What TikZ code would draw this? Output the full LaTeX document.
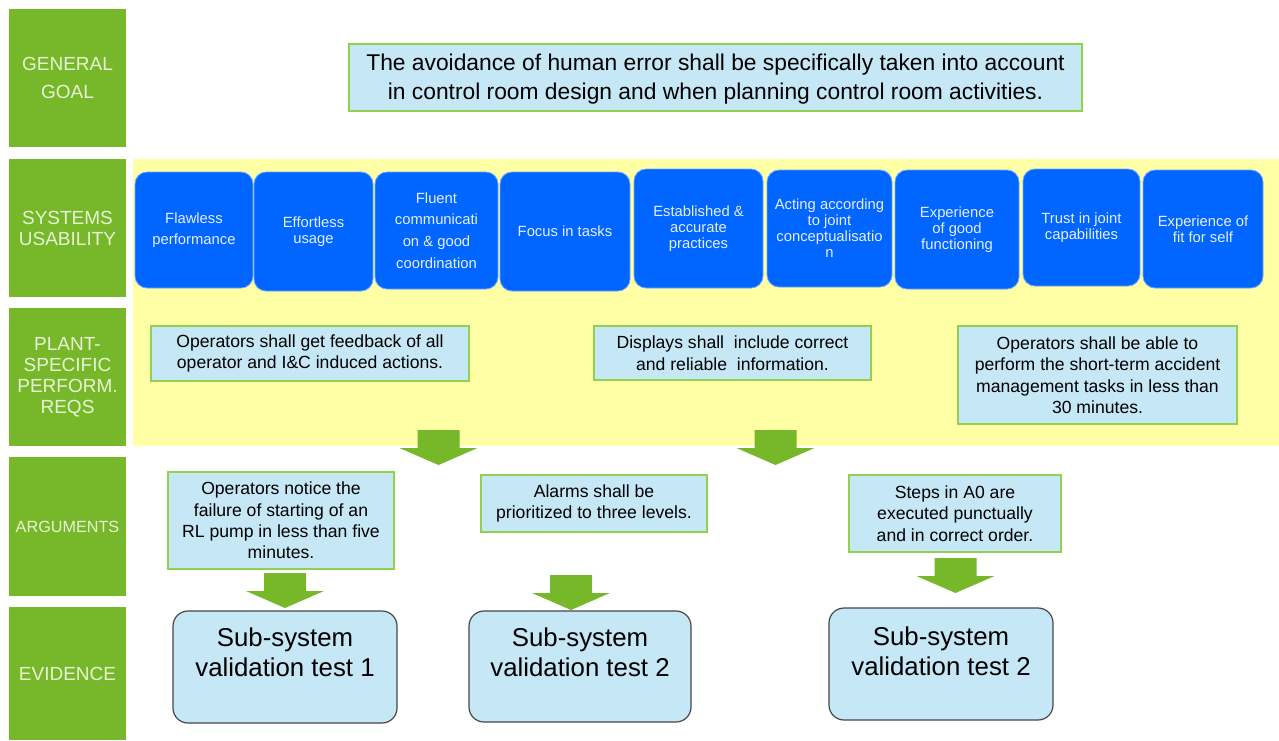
\documentclass[tikz,border=0pt]{standalone}
\usepackage{fontspec}
\setmainfont{Liberation Sans}
\usetikzlibrary{calc}

\definecolor{labelgreen}{RGB}{118,184,42}
\definecolor{labeltext}{RGB}{232,244,212}
\definecolor{bandyellow}{RGB}{255,255,165}
\definecolor{tileblue}{RGB}{0,102,255}
\definecolor{tileedge}{RGB}{110,165,255}
\definecolor{tiletext}{RGB}{232,238,255}
\definecolor{paleblue}{RGB}{197,231,246}
\definecolor{boxedge}{RGB}{146,208,80}
\definecolor{evedge}{RGB}{70,70,70}

\tikzset{
  boxsize/.style 2 args={minimum width=#1*0.5pt, minimum height=#2*0.5pt},
  lab/.style={fill=labelgreen, text=labeltext, align=center, inner sep=0pt,
    font=\fontsize{9.5}{10.5}\selectfont},
  tile/.style={fill=tileblue, draw=tileedge, line width=0.4pt, rounded corners=6pt,
    text=tiletext, align=center, inner sep=0pt, font=\fontsize{7.4}{8}\selectfont},
  widetile/.style={tile, font=\fontsize{7.4}{10.8}\selectfont},
  reqbox/.style={fill=paleblue, draw=boxedge, line width=0.6pt, align=center,
    inner sep=0pt, font=\fontsize{8.8}{10.7}\selectfont},
  goalbox/.style={reqbox, font=\fontsize{11.4}{14.5}\selectfont},
  evbox/.style={fill=paleblue, draw=evedge, line width=0.6pt, rounded corners=7.5pt,
    inner sep=0pt},
  evtext/.style={align=center, inner sep=0pt, font=\fontsize{12.9}{15}\selectfont},
  blockarrow/.pic={\fill[labelgreen] (-21,0) -- (21,0) -- (21,18) -- (39,18)
    -- (0,35) -- (-39,18) -- (-21,18) -- cycle;},
}

\begin{document}
\begin{tikzpicture}[x=0.5pt, y=-0.5pt]
\useasboundingbox (0,0) rectangle (1279,740);

% row labels
\node[lab, boxsize={117}{138}, font=\fontsize{9.5}{14}\selectfont] (lgoal) at (67.5,78) {GENERAL\\GOAL};
\node[lab, boxsize={117}{138}] (lsys) at (67.5,228) {SYSTEMS\\USABILITY};
\node[lab, boxsize={117}{138}] (lplant) at (67.5,377) {PLANT-\\SPECIFIC\\PERFORM.\\REQS};
\node[lab, boxsize={117}{139}, font=\fontsize{8.1}{10}\selectfont] (larg) at (67.5,526.5) {ARGUMENTS};
\node[lab, boxsize={117}{133}] (lev) at (67.5,673.5) {EVIDENCE};

% yellow band behind usability and requirements
\fill[bandyellow] (133,159) rectangle (1279,446);

% general goal
\node[goalbox, boxsize={733}{67}] (goal) at (715.5,77.5) {};
\node[align=center, inner sep=0pt, font=\fontsize{11.4}{14.5}\selectfont] (goalt)
  at ($(goal.center)+(0,2)$)
  {The avoidance of human error shall be specifically taken into account\\in control room design and when planning control room activities.};

% systems usability tiles
\node[widetile, boxsize={118}{116}] (u1) at (194,230) {Flawless\\performance};
\node[tile, boxsize={119}{119}] (u2) at (313.5,231.5) {Effortless\\usage};
\node[widetile, boxsize={123}{117}] (u3) at (436.5,230.5) {Fluent\\communicati\\on \& good\\coordination};
\node[tile, boxsize={130}{119}] (u4) at (565,231.5) {Focus in tasks};
\node[tile, boxsize={129}{119}] (u5) at (698.5,228.5) {Established \&\\accurate\\practices};
\node[tile, boxsize={125}{117}] (u6) at (829.5,228.5) {Acting according\\to joint\\conceptualisatio\\n};
\node[tile, boxsize={124}{119}] (u7) at (957,229.5) {Experience\\of good\\functioning};
\node[tile, boxsize={117}{117}] (u8) at (1081.5,227.5) {Trust in joint\\capabilities};
\node[tile, boxsize={120}{118}] (u9) at (1203,229) {Experience of\\fit for self};

% plant-specific requirements
\node[reqbox, boxsize={318}{55}] (p1) at (310,353.5) {Operators shall get feedback of all\\operator and I\&C induced actions.};
\node[reqbox, boxsize={277}{54}] (p2) at (732.5,353) {Displays shall~ include correct\\and reliable~ information.};
\node[reqbox, boxsize={279}{98}] (p3) at (1097.5,375) {Operators shall be able to\\perform the short-term accident\\management tasks in less than\\30 minutes.};

% arguments
\node[reqbox, boxsize={226}{97}] (a1) at (281,520.5) {Operators notice the\\failure of starting of an\\RL pump in less than five\\minutes.};
\node[reqbox, boxsize={226}{57}] (a2) at (594,503.5) {Alarms shall be\\prioritized to three levels.};
\node[reqbox, boxsize={212}{77}] (a3) at (955,513.5) {Steps in A0 are\\executed punctually\\and in correct order.};

% evidence
\node[evbox, boxsize={224}{112}] (e1) at (285,667) {};
\node[evbox, boxsize={222}{111}] (e2) at (580,666.5) {};
\node[evbox, boxsize={224}{112}] (e3) at (941,664) {};
\node[evtext] (e1t) at ($(e1.north)+(0,42)$) {Sub-system\\validation test 1};
\node[evtext] (e2t) at ($(e2.north)+(0,42)$) {Sub-system\\validation test 2};
\node[evtext] (e3t) at ($(e3.north)+(0,43.5)$) {Sub-system\\validation test 2};

% block arrows
\pic (ar1) at (438.5,430) {blockarrow};
\pic (ar2) at (775.5,430) {blockarrow};
\pic (ar3) at (285,573) {blockarrow};
\pic (ar4) at (571,575) {blockarrow};
\pic (ar5) at (955.5,558) {blockarrow};
\end{tikzpicture}
\end{document}
